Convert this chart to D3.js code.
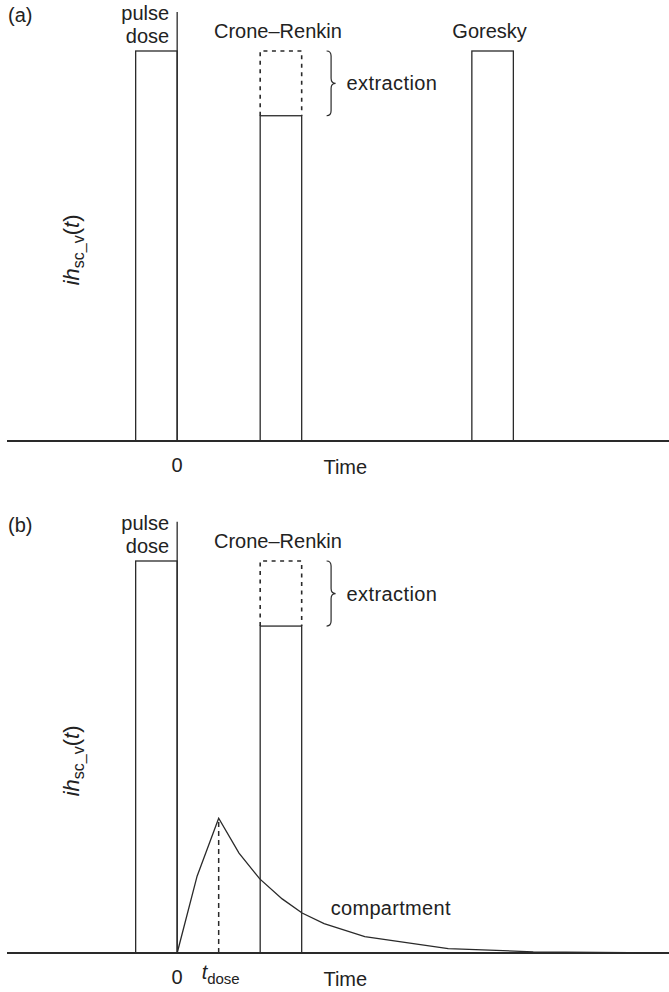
<!DOCTYPE html>
<html lang="en">
<head>
<meta charset="utf-8">
<title>Pulse dose, Crone-Renkin, Goresky</title>
<script src="https://d3js.org/d3.v7.min.js"></script>
<style>
  body { margin: 0; background: #fff; }
  svg text { font-family: "Liberation Sans", Arial, Helvetica, sans-serif; fill: #222; }
</style>
</head>
<body>
<div id="chart1"></div>
<script>

// bars (time in units of the pulse width, height relative to the dose)
var barNames  = ["pulse dose", "Crone–Renkin", "Goresky"];
var barStart  = [-1, 2, 7.1];
var barEnd    = [0, 3, 8.1];
var barHeight = [1, 0.834, 1];
var barDashed = [null, 1, null];   // dashed outline = full dose before extraction

// compartment curve, panel (b)
var compTime  = [0, 0.48, 1.0, 1.49, 1.99, 2.53, 3.01, 3.54, 4.52, 6.53, 8.58, 11.66];
var compValue = [0, 0.196, 0.344, 0.255, 0.189, 0.138, 0.102, 0.075, 0.042, 0.011, 0.003, 0];
var tDose = 1;

// tick labels
var tickZero = "0";
var timeLabel = "Time";

var width = 669, height = 992;

var svg = d3.select("#chart1").append("svg")
    .attr("width", width)
    .attr("height", height);

var x = d3.scaleLinear().domain([-4.1, 11.85]).range([7, 669]);

var fontSize = 20;
var ink = "#2a2a2a";

function drawPanel(letter, base, top, bars) {
    var y = d3.scaleLinear().domain([0, 1]).range([base, top]);
    var g = svg.append("g");

    //////////
    // BARS //
    //////////
    bars.forEach(function(i) {
        if (barDashed[i] != null) {
            g.append("path")
                .attr("d", "M" + x(barStart[i]) + "," + y(barHeight[i]) +
                           "V" + y(barDashed[i]) + "H" + x(barEnd[i]) + "V" + y(barHeight[i]))
                .attr("fill", "none")
                .attr("stroke", ink)
                .attr("stroke-width", 1.6)
                .attr("stroke-dasharray", "4,4.5");
        }
        g.append("rect")
            .attr("x", x(barStart[i]))
            .attr("y", y(barHeight[i]))
            .attr("width", x(barEnd[i]) - x(barStart[i]))
            .attr("height", y(0) - y(barHeight[i]))
            .attr("fill", "none")
            .attr("stroke", ink)
            .attr("stroke-width", 1.3);
    });

    // bar labels
    var pulseX = x(0) - 8;
    g.append("text").attr("x", pulseX).attr("y", y(1.08)).attr("text-anchor", "end")
        .style("font-size", fontSize + "px").text("pulse");
    g.append("text").attr("x", pulseX).attr("y", y(1.02)).attr("text-anchor", "end")
        .style("font-size", fontSize + "px").text("dose");

    bars.slice(1).forEach(function(i) {
        g.append("text")
            .attr("x", (x(barStart[i]) + x(barEnd[i])) / 2 - 3)
            .attr("y", y(1.033))
            .attr("text-anchor", "middle")
            .style("font-size", fontSize + "px")
            .text(barNames[i]);
    });

    // extraction brace
    var bx = x(3.6), bw = 9, t0 = y(1), t1 = y(barHeight[1]), tm = (t0 + t1) / 2, r = 5;
    var xc = bx + bw / 2;
    g.append("path")
        .attr("d", "M" + bx + "," + t0 +
            "Q" + xc + "," + t0 + " " + xc + "," + (t0 + r) +
            "L" + xc + "," + (tm - r) +
            "Q" + xc + "," + tm + " " + (bx + bw) + "," + tm +
            "Q" + xc + "," + tm + " " + xc + "," + (tm + r) +
            "L" + xc + "," + (t1 - r) +
            "Q" + xc + "," + t1 + " " + bx + "," + t1)
        .attr("fill", "none")
        .attr("stroke", ink)
        .attr("stroke-width", 1.2);
    g.append("text")
        .attr("x", bx + bw + 11)
        .attr("y", tm + 7)
        .style("font-size", fontSize + "px")
        .style("letter-spacing", "0.4px")
        .text("extraction");

    //////////
    // AXES //
    //////////
    g.append("line")
        .attr("x1", x.range()[0]).attr("x2", x.range()[1])
        .attr("y1", y(0)).attr("y2", y(0))
        .attr("stroke", ink).attr("stroke-width", 2);
    g.append("line")
        .attr("x1", x(0)).attr("x2", x(0))
        .attr("y1", y(0)).attr("y2", y(1.1))
        .attr("stroke", ink).attr("stroke-width", 1.3);

    g.append("text").attr("x", x(0)).attr("y", y(0) + 31).attr("text-anchor", "middle")
        .style("font-size", fontSize + "px").text(tickZero);
    g.append("text").attr("x", x(4.05)).attr("y", y(0) + 33).attr("text-anchor", "middle")
        .style("font-size", fontSize + "px").text(timeLabel);

    // panel letter
    g.append("text").attr("x", 8).attr("y", top - 29)
        .style("font-size", fontSize + "px").text("(" + letter + ")");

    // y label ih_sc_v(t)
    var yl = g.append("text")
        .attr("transform", "translate(79," + (y(0.49)) + ") rotate(-90)")
        .attr("text-anchor", "middle")
        .style("font-size", "22px");
    yl.append("tspan").style("font-style", "italic").text("ih");
    yl.append("tspan").attr("dy", 5).style("font-size", "16px").text("sc_v");
    yl.append("tspan").attr("dy", -5).text("(");
    yl.append("tspan").style("font-style", "italic").text("t");
    yl.append("tspan").text(")");

    return {g: g, y: y};
}

var pa = drawPanel("a", 441, 51, [0, 1, 2]);
var pb = drawPanel("b", 953, 561, [0, 1]);

////////////////
// COMPARTMENT //
////////////////
var comp = compTime.map(function(t, i) { return [t, compValue[i]]; });
var line = d3.line()
    .x(function(d) { return x(d[0]); })
    .y(function(d) { return pb.y(d[1]); });

pb.g.append("path")
    .datum(comp)
    .attr("d", line)
    .attr("fill", "none")
    .attr("stroke", ink)
    .attr("stroke-width", 1.3);

var peak = compValue[compTime.indexOf(tDose)];
pb.g.append("line")
    .attr("x1", x(tDose)).attr("x2", x(tDose))
    .attr("y1", pb.y(0)).attr("y2", pb.y(peak))
    .attr("stroke", ink).attr("stroke-width", 1.5)
    .attr("stroke-dasharray", "5,4");

pb.g.append("text")
    .attr("x", x(3.7))
    .attr("y", pb.y(0.097))
    .style("font-size", fontSize + "px")
    .style("letter-spacing", "0.3px")
    .text("compartment");

var td = pb.g.append("text")
    .attr("x", x(tDose) + 2)
    .attr("y", pb.y(0) + 26)
    .attr("text-anchor", "middle")
    .style("font-size", fontSize + "px");
td.append("tspan").style("font-style", "italic").text("t");
td.append("tspan").attr("dy", 5).style("font-size", "15px").text("dose");

</script>
</body>
</html>
